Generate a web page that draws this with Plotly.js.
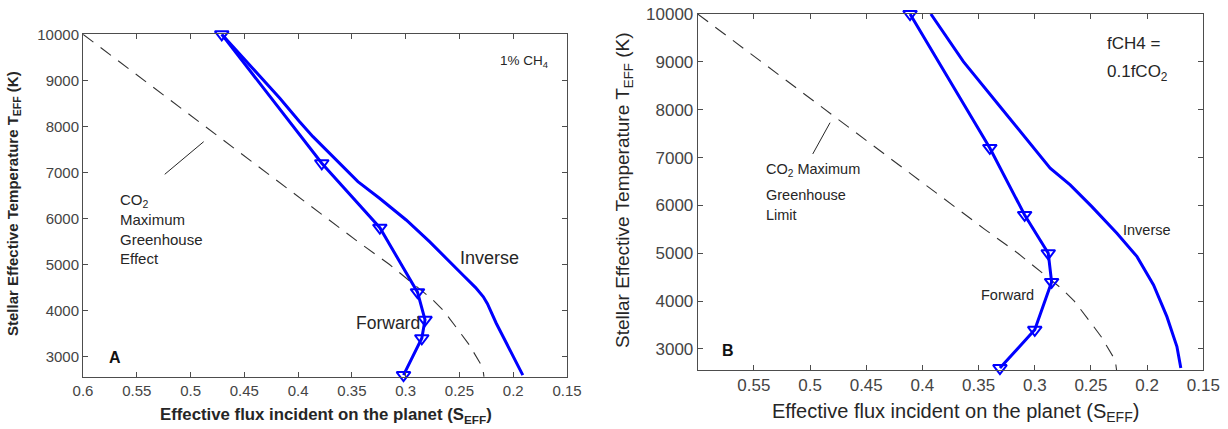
<!DOCTYPE html>
<html><head><meta charset="utf-8">
<script src="https://cdn.plot.ly/plotly-3.0.1.min.js"></script>
<style>html,body{margin:0;padding:0;background:#fff}#chart{width:1228px;height:429px}</style>
</head><body><div id="chart"></div>
<script>
// ---- Data ----
// CO2 maximum greenhouse limit (dashed), shared by both panels
const limitT = [10000, 9000, 8000, 7000, 6500, 6000, 5500, 5000, 4500, 4250, 4000, 3750, 3500, 3250, 3000, 2800, 2700, 2560];
const limitS = [0.600, 0.5433, 0.4866, 0.430, 0.4017, 0.373, 0.3445, 0.315, 0.2883, 0.2755, 0.2648, 0.2563, 0.2486, 0.2407, 0.234, 0.2293, 0.228, 0.2272];

// Panel A (1% CH4)
const aFwdT = [10000, 7200, 5800, 4400, 3800, 3400, 2600];
const aFwdS = [0.471, 0.378, 0.324, 0.289, 0.282, 0.285, 0.302];
const aInvT = [10000, 8610, 8103, 7777, 6800, 6440, 5968, 5497, 4774, 4500, 4300, 4150, 3726, 3146, 2783, 2600];
const aInvS = [0.471, 0.417, 0.3986, 0.3862, 0.3444, 0.3243, 0.2995, 0.2778, 0.2468, 0.2350, 0.2278, 0.2240, 0.2158, 0.2034, 0.1957, 0.1911];
const aPointerS = [0.524, 0.4878];
const aPointerT = [6960, 7668];

// Panel B (fCH4 = 0.1 fCO2)
const bFwdT = [10000, 7200, 5800, 5000, 4400, 3400, 2600];
const bFwdS = [0.411, 0.340, 0.309, 0.288, 0.285, 0.300, 0.331];
const bInvT = [10000, 9004, 8063, 7367, 6776, 6427, 5974, 5418, 4929, 4338, 3675, 3049, 2600];
const bInvS = [0.3925, 0.3635, 0.3308, 0.307, 0.2863, 0.2685, 0.2492, 0.2269, 0.209, 0.1943, 0.1824, 0.1735, 0.170];
const bPointerS = [0.4976, 0.4822];
const bPointerT = [7075, 7729];

// Tick labels
const xTickVals = [0.6, 0.55, 0.5, 0.45, 0.4, 0.35, 0.3, 0.25, 0.2, 0.15];
const xTickText = ['0.6', '0.55', '0.5', '0.45', '0.4', '0.35', '0.3', '0.25', '0.2', '0.15'];
const xTickValsB = [0.55, 0.5, 0.45, 0.4, 0.35, 0.3, 0.25, 0.2, 0.15];
const xTickTextB = ['0.55', '0.5', '0.45', '0.4', '0.35', '0.3', '0.25', '0.2', '0.15'];
const yTickVals = [3000, 4000, 5000, 6000, 7000, 8000, 9000, 10000];
const yTickText = ['3000', '4000', '5000', '6000', '7000', '8000', '9000', '10000'];

// ---- Styling ----
const FONT = 'Liberation Sans, Arial, Helvetica, sans-serif';
const BLUE = '#0000ff';
const AX = '#4d4d4d';

function lim(xa, ya) {
  return {x: limitS, y: limitT, xaxis: xa, yaxis: ya, mode: 'lines', type: 'scatter',
    line: {color: '#333333', width: 1.1, dash: '13px,9px'},
    hoverinfo: 'skip', cliponaxis: false};
}
function inv(xs, ys, xa, ya) {
  return {x: xs, y: ys, xaxis: xa, yaxis: ya, mode: 'lines', type: 'scatter',
    line: {color: BLUE, width: 3}, cliponaxis: false};
}
function fwd(xs, ys, xa, ya) {
  return {x: xs, y: ys, xaxis: xa, yaxis: ya, mode: 'lines+markers', type: 'scatter',
    line: {color: BLUE, width: 3},
    marker: {symbol: 'triangle-down-open', size: 12, color: BLUE, line: {color: BLUE, width: 2}},
    cliponaxis: false};
}
function ptr(xs, ys, xa, ya) {
  return {x: xs, y: ys, xaxis: xa, yaxis: ya, mode: 'lines', type: 'scatter',
    line: {color: '#262626', width: 1}, cliponaxis: false};
}

const traces = [
  lim('x', 'y'), inv(aInvS, aInvT, 'x', 'y'), fwd(aFwdS, aFwdT, 'x', 'y'), ptr(aPointerS, aPointerT, 'x', 'y'),
  lim('x2', 'y2'), inv(bInvS, bInvT, 'x2', 'y2'), fwd(bFwdS, bFwdT, 'x2', 'y2'), ptr(bPointerS, bPointerT, 'x2', 'y2')
];

function xax(domain, vals, text, size, anchor) {
  return {domain: domain, range: [0.6, 0.15], anchor: anchor, tickvals: vals, ticktext: text,
    ticks: 'inside', ticklen: 5, tickcolor: AX, showline: true, linecolor: AX, linewidth: 1,
    mirror: 'ticks', showgrid: false, zeroline: false,
    tickfont: {family: FONT, size: size, color: '#444'}};
}
function yax(domain, range, size, anchor) {
  return {domain: domain, range: range, anchor: anchor, tickvals: yTickVals, ticktext: yTickText,
    ticks: 'inside', ticklen: 5, tickcolor: AX, showline: true, linecolor: AX, linewidth: 1,
    mirror: 'ticks', showgrid: false, zeroline: false,
    tickfont: {family: FONT, size: size, color: '#444'}};
}

function px(x) { return x / 1228; }
function py(y) { return 1 - y / 429; }

const T = '#262626';
function note(x, y, text, size, opts) {
  return Object.assign({xref: 'paper', yref: 'paper', x: px(x), y: py(y), text: text, showarrow: false,
    font: {family: FONT, size: size, color: T}, xanchor: 'left', yanchor: 'middle', align: 'left'}, opts || {});
}

const annotations = [
  // Panel A
  note(13, 204, '<b>Stellar Effective Temperature T<sub>EFF</sub> (K)</b>', 15, {textangle: -90, xanchor: 'center'}),
  note(326, 415, '<b>Effective flux incident on the planet (S<sub>EFF</sub>)</b>', 16.8, {xanchor: 'center'}),
  note(498, 62, '1% CH<sub>4</sub>', 13.5),
  note(458, 258, 'Inverse', 18),
  note(354, 323, 'Forward', 17.5),
  note(118, 200, 'CO<sub>2</sub>', 15),
  note(118, 220, 'Maximum', 15),
  note(118, 239, 'Greenhouse', 15),
  note(118, 258, 'Effect', 15),
  note(107, 357, '<b>A</b>', 16, {font: {family: FONT, size: 16, color: '#111'}}),
  // Panel B
  note(624, 190, 'Stellar Effective Temperature T<sub>EFF</sub> (K)', 19, {textangle: -90, xanchor: 'center'}),
  note(955, 412, 'Effective flux incident on the planet (S<sub>EFF</sub>)', 20, {xanchor: 'center'}),
  note(1105, 44, 'fCH4 =', 17),
  note(1105, 73, '0.1fCO<sub>2</sub>', 17),
  note(1121, 230, 'Inverse', 14.5),
  note(979, 295, 'Forward', 14.5),
  note(764, 170, 'CO<sub>2</sub> Maximum', 14.5),
  note(764, 195, 'Greenhouse', 14.5),
  note(764, 215, 'Limit', 14.5),
  note(720, 350, '<b>B</b>', 16, {font: {family: FONT, size: 16, color: '#111'}})
];

const layout = {
  width: 1228, height: 429, margin: {l: 0, r: 0, t: 0, b: 0},
  paper_bgcolor: '#fff', plot_bgcolor: '#fff', showlegend: false,
  font: {family: FONT},
  xaxis: xax([px(83), px(567)], xTickVals, xTickText, 15, 'y'),
  yaxis: yax([py(376.7), py(34.3)], [2565, 10000], 15, 'x'),
  xaxis2: xax([px(697.7), px(1203.3)], xTickValsB, xTickTextB, 17, 'y2'),
  yaxis2: yax([py(370), py(14)], [2560, 10000], 17, 'x2'),
  annotations: annotations
};

Plotly.newPlot('chart', traces, layout, {displayModeBar: false, staticPlot: true});
</script></body></html>
